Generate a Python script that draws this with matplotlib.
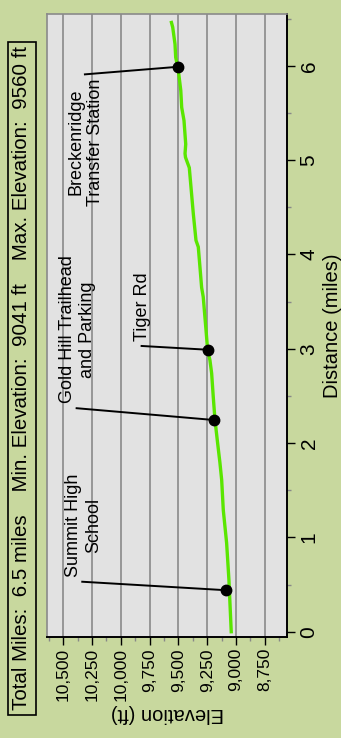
import matplotlib
matplotlib.use("Agg")
import matplotlib.pyplot as plt
from matplotlib.ticker import FuncFormatter, MultipleLocator, FixedLocator

plt.rcParams['font.family'] = ['Liberation Sans', 'DejaVu Sans']

# ---- data ----
dist = [0.0, 0.30, 0.55, 0.94, 1.29, 1.61, 1.79, 2.03, 2.245, 2.49, 2.74, 2.88, 2.99,
        3.20, 3.55, 3.65, 3.86, 4.08, 4.15, 4.43, 4.64, 4.92, 5.03, 5.07, 5.17, 5.42,
        5.56, 5.74, 5.95, 5.99, 6.09, 6.23, 6.41, 6.46]
elev = [9041, 9052, 9061, 9081, 9110, 9124, 9139, 9162, 9182, 9197, 9211, 9226, 9246,
        9260, 9284, 9298, 9312, 9327, 9347, 9370, 9385, 9405, 9438, 9442, 9436, 9451,
        9471, 9479, 9500, 9506, 9523, 9529, 9549, 9560]

poi_names = ["Summit High\nSchool", "Gold Hill Trailhead\nand Parking", "Tiger Rd",
             "Breckenridge\nTransfer Station"]
poi_dist = [0.44, 2.245, 2.99, 5.99]
poi_elev = [9085, 9192, 9246, 9505]
label_dist = [0.53, 2.37, 3.03, 5.91]
label_elev = [10334, 10383, 9819, 10311]

elev_ticks = [10500, 10250, 10000, 9750, 9500, 9250, 9000, 8750]
dist_ticks = [0, 1, 2, 3, 4, 5, 6]

title_text = "Total Miles:  6.5 miles    Min. Elevation:  9041 ft    Max. Elevation:  9560 ft"

# ---- style ----
fig_bg = '#c8d89e'
plot_bg = '#e2e2e2'
grid_c = '#8a8a8a'
line_c = '#5ae600'

fig = plt.figure(figsize=(3.41, 7.38), dpi=100, facecolor=fig_bg)
W, H = 341, 738
ax = fig.add_axes([47 / W, 1 - 637 / H, 240 / W, 623 / H])
ax.set_facecolor(plot_bg)

ax.set_xlim(10640, 8557)
ax.set_ylim(-0.056, 6.55)

for e in elev_ticks:
    ax.axvline(e, color=grid_c, lw=1.2, zorder=1)

ax.plot(elev, dist, color=line_c, lw=2.4, zorder=3, solid_joinstyle='miter')

for name, pd_, pe, ld, le in zip(poi_names, poi_dist, poi_elev, label_dist, label_elev):
    ax.plot([pe, le], [pd_, ld], color='black', lw=1.4, zorder=4)
    ax.plot([pe], [pd_], 'o', color='black', ms=7.5, zorder=5)
    if name.startswith("Breckenridge"):
        ax.text(le - 8, ld - 0.04, name, rotation=90, ha='center', va='top',
                multialignment='center', fontsize=13, linespacing=1.25, zorder=6)
    else:
        ax.text(le - 8, ld + 0.05, name, rotation=90, ha='center', va='bottom',
                multialignment='center', fontsize=13, linespacing=1.25, zorder=6)

ax.xaxis.set_major_locator(FixedLocator(elev_ticks))
ax.xaxis.set_minor_locator(FixedLocator([10625, 10375, 10125, 9875, 9625, 9375, 9125, 8875, 8625]))
ax.xaxis.set_major_formatter(FuncFormatter(lambda v, p: f"{int(v):,}"))
ax.yaxis.set_major_locator(FixedLocator(dist_ticks))
ax.yaxis.set_minor_locator(MultipleLocator(0.5))
ax.yaxis.tick_right()
ax.yaxis.set_label_position('right')

ax.tick_params(axis='both', which='major', direction='out', length=6, width=1.0,
               color='black', pad=2)
ax.tick_params(axis='x', which='major', labelsize=12.5)
ax.tick_params(axis='y', which='major', labelsize=15, pad=3)
ax.tick_params(axis='both', which='minor', direction='out', length=3, width=1.0,
               color='#888888')
for lab in ax.get_xticklabels():
    lab.set_rotation(90)
for lab in ax.get_yticklabels():
    lab.set_rotation(90)
    lab.set_va('center')

ax.set_xlabel("Elevation (ft)", rotation=180, fontsize=14.5, labelpad=2)
ax.set_ylabel("Distance (miles)", rotation=90, fontsize=14.5, labelpad=3)

for s in ['left', 'top']:
    ax.spines[s].set_color('#8a8a8a')
    ax.spines[s].set_linewidth(1.2)
for s in ['bottom', 'right']:
    ax.spines[s].set_color('black')
    ax.spines[s].set_linewidth(1.4)

fig.text(22 / W, 1 - 378.5 / H, title_text, rotation=90, ha='center', va='center',
         fontsize=14.8,
         bbox=dict(boxstyle='square,pad=0.2', facecolor='none', edgecolor='black', lw=1.2))

fig.savefig("out.png", dpi=100, facecolor=fig_bg)
